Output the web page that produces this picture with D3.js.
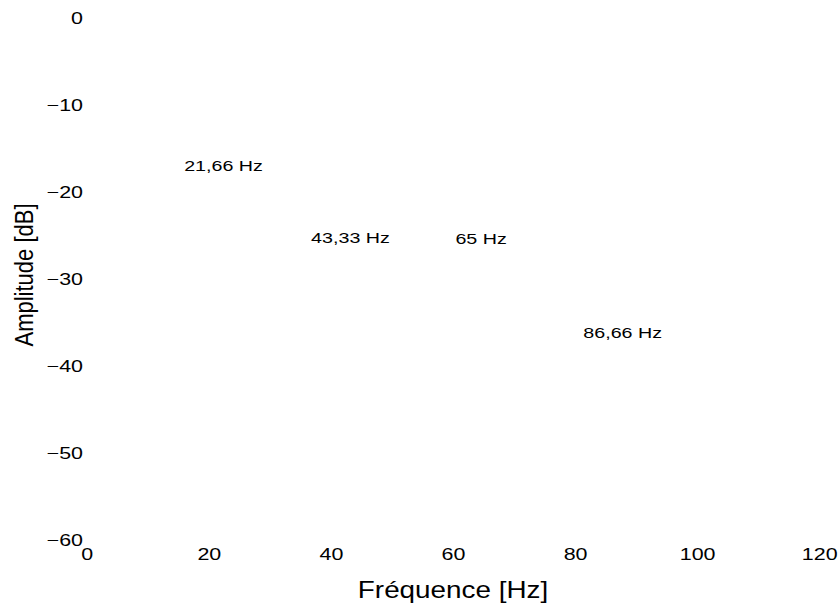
<!DOCTYPE html>
<html>
<head>
<meta charset="utf-8">
<script src="https://cdn.jsdelivr.net/npm/d3@7"></script>
<style>
  html, body { margin: 0; padding: 0; background: #fff; }
  svg { display: block; }
  text { font-family: "Liberation Sans", Arial, Helvetica, sans-serif; fill: #000; }
</style>
</head>
<body>
<svg id="chart" width="840" height="606"></svg>
<script>
// ---- data ----
const xTicks = [0, 20, 40, 60, 80, 100, 120];
const yTicks = [-60, -50, -40, -30, -20, -10, 0];
const peakLabels = ["21,66 Hz", "43,33 Hz", "65 Hz", "86,66 Hz"];
const peakX = [22.4, 43.2, 64.6, 87.8];     // label anchor (Hz)
const peakY = [-17.6, -25.9, -26.0, -36.8]; // label baseline (dB)
const xTitle = "Fréquence [Hz]";
const yTitle = "Amplitude [dB]";

// ---- layout ----
const svg = d3.select("#chart");
const x = d3.scaleLinear().domain([0, 120]).range([86.8, 819.2]);
const y = d3.scaleLinear().domain([-60, 0]).range([539.5, 18]);
const SX = 1.3; // horizontal stretch of glyphs in the reference

// x axis (labels only)
const gx = svg.append("g").attr("transform", "translate(0,560)")
  .call(d3.axisBottom(x).tickValues(xTicks).tickSize(0).tickPadding(0));
gx.select(".domain").remove();
gx.selectAll(".tick line").remove();
gx.selectAll(".tick text")
  .attr("y", 0).attr("dy", 0)
  .attr("font-size", 16.5)
  .attr("font-family", null)
  .attr("fill", "#000")
  .attr("transform", `scale(${SX},1)`);

// y axis (labels only)
const gy = svg.append("g").attr("transform", "translate(83,0)")
  .call(d3.axisLeft(y).tickValues(yTicks).tickSize(0).tickPadding(0));
gy.select(".domain").remove();
gy.selectAll(".tick line").remove();
gy.selectAll(".tick text")
  .attr("x", 0).attr("dy", "0.36em")
  .attr("font-size", 16.5)
  .attr("font-family", null)
  .attr("fill", "#000")
  .attr("transform", `scale(${SX},1)`);

// peak annotations
svg.append("g").selectAll("text")
  .data(peakLabels)
  .join("text")
  .attr("transform", (d, i) => `translate(${x(peakX[i])},${y(peakY[i])}) scale(1.27,1)`)
  .attr("text-anchor", "middle")
  .attr("font-size", 15.5)
  .text(d => d);

// axis titles
svg.append("text")
  .attr("transform", `translate(${(x.range()[0] + x.range()[1]) / 2},598) scale(1.16,1)`)
  .attr("text-anchor", "middle")
  .attr("font-size", 24)
  .text(xTitle);

svg.append("text")
  .attr("transform", `translate(33,275) scale(1.16,1) rotate(-90)`)
  .attr("text-anchor", "middle")
  .attr("font-size", 22)
  .text(yTitle);
</script>
</body>
</html>
